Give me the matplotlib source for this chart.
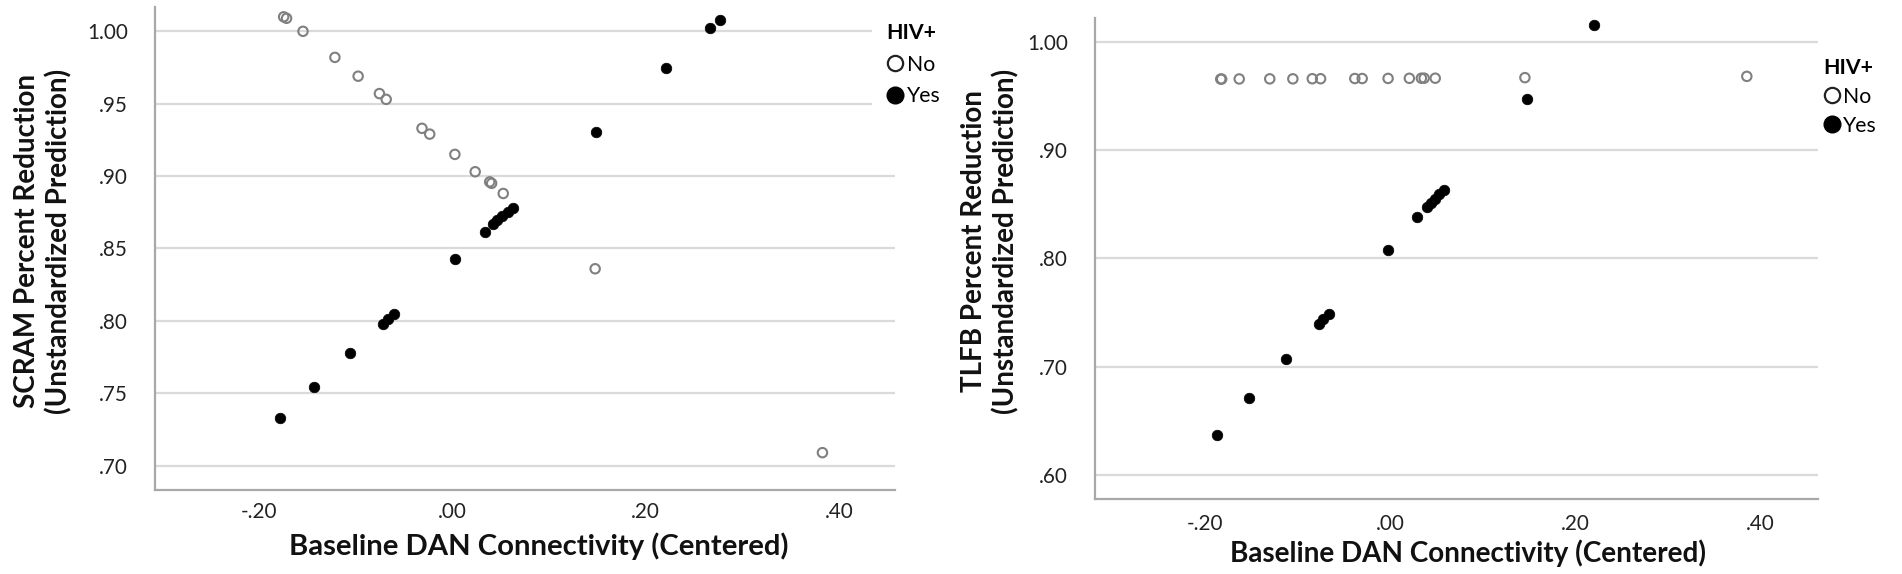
import matplotlib
matplotlib.use('Agg')
import matplotlib.pyplot as plt
from matplotlib.lines import Line2D

FONT = ['Lato', 'DejaVu Sans']
plt.rcParams['font.family'] = FONT

W, H, DPI = 1902, 574, 100

# ---------------- data ----------------
scram_no_x = [-0.174, -0.171, -0.154, -0.121, -0.097, -0.075, -0.068, -0.031, -0.023,
              0.003, 0.024, 0.039, 0.041, 0.053, 0.148, 0.383]
scram_no_y = [1.010, 1.009, 1.000, 0.982, 0.969, 0.957, 0.953, 0.933, 0.929,
              0.915, 0.903, 0.896, 0.895, 0.888, 0.836, 0.709]
scram_yes_x = [-0.178, -0.143, -0.105, -0.071, -0.066, -0.060, 0.003, 0.034, 0.042,
               0.047, 0.052, 0.058, 0.063, 0.149, 0.221, 0.267, 0.277]
scram_yes_y = [0.733, 0.754, 0.7775, 0.798, 0.801, 0.8045, 0.8424, 0.8614, 0.8667,
               0.8695, 0.8725, 0.8755, 0.8781, 0.9306, 0.975, 1.0025, 1.008]

tlfb_no_x = [-0.183, -0.182, -0.163, -0.130, -0.105, -0.084, -0.075, -0.038, -0.030,
             -0.002, 0.021, 0.034, 0.037, 0.049, 0.146, 0.386]
tlfb_no_y = [0.9655, 0.9655, 0.9656, 0.9657, 0.9657, 0.9658, 0.9658, 0.9660, 0.9660,
             0.9661, 0.9662, 0.9663, 0.9663, 0.9663, 0.9668, 0.9680]
tlfb_yes_x = [-0.187, -0.152, -0.112, -0.077, -0.072, -0.066, -0.002, 0.029, 0.040,
              0.044, 0.049, 0.053, 0.058, 0.148, 0.221]
tlfb_yes_y = [0.637, 0.6706, 0.7074, 0.739, 0.744, 0.749, 0.8075, 0.838, 0.8475,
              0.851, 0.855, 0.859, 0.8634, 0.9468, 1.0153]

x_ticks = [-0.20, 0.00, 0.20, 0.40]
x_ticklabels = ['-.20', '.00', '.20', '.40']
scram_yticks = [0.70, 0.75, 0.80, 0.85, 0.90, 0.95, 1.00]
scram_yticklabels = ['.70', '.75', '.80', '.85', '.90', '.95', '1.00']
tlfb_yticks = [0.60, 0.70, 0.80, 0.90, 1.00]
tlfb_yticklabels = ['.60', '.70', '.80', '.90', '1.00']

xlabel = 'Baseline DAN Connectivity (Centered)'
scram_ylabel = 'SCRAM Percent Reduction\n(Unstandardized Prediction)'
tlfb_ylabel = 'TLFB Percent Reduction\n(Unstandardized Prediction)'
legend_title = 'HIV+'
legend_labels = ['No', 'Yes']

# ---------------- figure ----------------
fig = plt.figure(figsize=(W / DPI, H / DPI), dpi=DPI)
fig.patch.set_facecolor('white')


def px_axes(x0, y0, x1, y1):
    return fig.add_axes([x0 / W, (H - y1) / H, (x1 - x0) / W, (y1 - y0) / H])


ax1 = px_axes(155, 6.7, 895, 490)
ax2 = px_axes(1095, 18.3, 1818, 499.3)

panels = [
    (ax1, scram_no_x, scram_no_y, scram_yes_x, scram_yes_y, scram_yticks, scram_yticklabels,
     (-0.307, 0.458), (0.6832, 1.017)),
    (ax2, tlfb_no_x, tlfb_no_y, tlfb_yes_x, tlfb_yes_y, tlfb_yticks, tlfb_yticklabels,
     (-0.319, 0.463), (0.5775, 1.0216)),
]

for ax, nx, ny, yx, yy, yt, ytl, xl, yl in panels:
    ax.set_facecolor('white')
    ax.scatter(nx, ny, s=46, facecolors='none', edgecolors='#808080', linewidths=1.5, zorder=3)
    ax.scatter(yx, yy, s=58, c='black', edgecolors='black', linewidths=0.5, zorder=4)
    ax.set_xlim(*xl)
    ax.set_ylim(*yl)
    ax.set_xticks(x_ticks)
    ax.set_xticklabels(x_ticklabels)
    ax.set_yticks(yt)
    ax.set_yticklabels(ytl)
    for s in ['top', 'right']:
        ax.spines[s].set_visible(False)
    for s in ['left', 'bottom']:
        ax.spines[s].set_color('#a8a8a8')
        ax.spines[s].set_linewidth(1.6)
    ax.yaxis.grid(True, color='#dadada', linewidth=1.6)
    ax.xaxis.grid(False)
    ax.set_axisbelow(True)
    ax.tick_params(length=0, labelsize=14, colors='#222222')

ax1.tick_params(axis='y', pad=27 * 0.72)
ax2.tick_params(axis='y', pad=27 * 0.72)
ax1.tick_params(axis='x', pad=12 * 0.72)
ax2.tick_params(axis='x', pad=15 * 0.72)

# axis titles as figure text
t_x1 = fig.text(538.7 / W, 1 - 546.7 / H, xlabel, ha='center', va='center',
                fontsize=18, fontweight='bold', color='#111111')
t_x2 = fig.text(1468 / W, 1 - 553.3 / H, xlabel, ha='center', va='center',
                fontsize=18, fontweight='bold', color='#111111')
t_y1 = fig.text(43.5 / W, 1 - 241 / H, scram_ylabel, ha='center', va='center', rotation=90,
                multialignment='center', fontsize=17, fontweight='bold', color='#111111',
                linespacing=1.25)
t_y2 = fig.text(990 / W, 1 - 241 / H, tlfb_ylabel, ha='center', va='center', rotation=90,
                multialignment='center', fontsize=17, fontweight='bold', color='#111111',
                linespacing=1.25)
probe = fig.text(0, 0, legend_title, fontsize=14, fontweight='bold')

fig.canvas.draw()
r = fig.canvas.get_renderer()


def fit(t, target, dim='w'):
    bb = t.get_window_extent(r)
    cur = bb.width if dim == 'w' else bb.height
    t.set_fontsize(t.get_fontsize() * target / cur)


fit(t_x1, 499)
fit(t_x2, 477)
fit(t_y1, 345, 'h')
fit(t_y2, 345, 'h')

# tick label size: "1.00" about 41 px wide
lab = [t for t in ax2.get_yticklabels() if t.get_text() == '1.00'][0]
bb = lab.get_window_extent(r)
tsize = 14 * 41 / bb.width
for ax in (ax1, ax2):
    ax.tick_params(labelsize=tsize)

# legend font: "HIV+" about 50 px wide
lsize = 14 * 50 / probe.get_window_extent(r).width
probe.remove()


def make_handles():
    return [Line2D([], [], ls='none', marker='o', markerfacecolor='white', markeredgecolor='#222222',
                   markeredgewidth=1.6, markersize=11, label=legend_labels[0]),
            Line2D([], [], ls='none', marker='o', markerfacecolor='black', markeredgecolor='black',
                   markersize=12, label=legend_labels[1])]


leg_specs = [(ax1, 886.7, 33, True, 0.55), (ax2, 1823, 68, False, 0.42)]
legs = []
for ax, lx, ly, frame, lsp in leg_specs:
    leg = ax.legend(handles=make_handles(), title=legend_title, loc='upper left',
                    bbox_to_anchor=(lx / W, 1 - ly / H), bbox_transform=fig.transFigure,
                    frameon=frame, fontsize=lsize, title_fontproperties={'weight': 'bold', 'size': lsize},
                    alignment='left', handlelength=0.8, handletextpad=0.15, labelspacing=lsp,
                    borderpad=0.7 if frame else 0.0, borderaxespad=0.0)
    if frame:
        leg.get_frame().set_facecolor('white')
        leg.get_frame().set_edgecolor('none')
        leg.get_frame().set_alpha(1.0)
    legs.append((leg, lx, ly))

fig.canvas.draw()
for leg, lx, ly in legs:
    tb = leg.get_title().get_window_extent(r)
    dx = lx - tb.x0
    dy = (H - ly) - (tb.y0 + tb.y1) / 2
    anc = leg.get_bbox_to_anchor()
    leg.set_bbox_to_anchor(((anc.x0 + dx) / W, (anc.y0 + dy) / H), transform=fig.transFigure)

fig.savefig('out.png', dpi=DPI, facecolor='white')
